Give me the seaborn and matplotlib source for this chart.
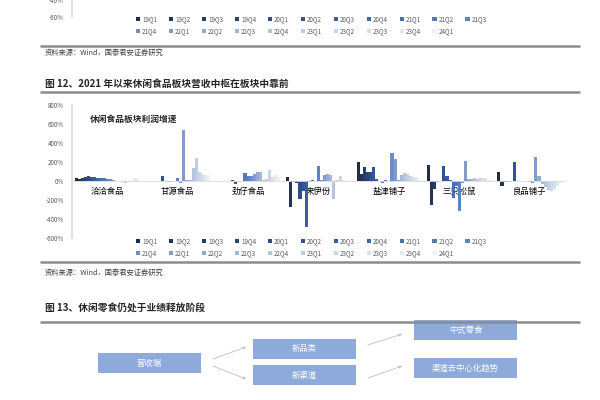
"""Report page: quarterly profit growth of snack-food companies (grouped bars)."""

import matplotlib
matplotlib.use("Agg")
import matplotlib.pyplot as plt
from matplotlib.patches import Patch, Rectangle
import numpy as np
import pandas as pd
import seaborn as sns

nan = np.nan

quarters = [
    "19Q1", "19Q2", "19Q3", "19Q4", "20Q1", "20Q2", "20Q3", "20Q4",
    "21Q1", "21Q2", "21Q3", "21Q4", "22Q1", "22Q2", "22Q3", "22Q4",
    "23Q1", "23Q2", "23Q3", "23Q4", "24Q1",
]
companies = ["洽洽食品", "甘源食品", "劲仔食品", "来伊份", "盐津铺子", "三只松鼠", "良品铺子"]

# profit growth, %
qiaqia = [30, 25, 35, 40, 50, 45, 40, 35, 30, 35, 25, 20, 10, 5, 5, -10, -20, -15, -5, 35, 15]
ganyuan = [nan, nan, nan, nan, nan, 55, -5, -10, -15, 5, 30, -20, 540, 10, 15, 140, 245, 95, 75, 65, 60]
jinzai = [nan, nan, nan, nan, nan, 10, -30, -5, 5, 85, 55, 50, 75, 90, 95, 10, 20, 115, 40, 60, 45]
laiyifen = [45, -270, -15, -20, -190, -110, -480, -10, 10, 5, 160, 10, 65, 75, 60, -190, 10, 55, 15, 5, -10]
yanjin = [200, 70, 147, 100, 95, 147, 20, 5, -20, 10, 5, 300, 230, 15, 60, 85, 75, 50, 40, 40, 10]
sanzhi = [165, -250, -85, -10, -5, 158, 55, 10, -180, -50, -315, -20, 210, 20, 25, 30, 25, 35, 30, 20, 10]
liangpin = [95, -50, -15, -10, 5, 200, 5, 5, 0, -5, -15, -20, 250, 55, -30, -60, -90, -110, -80, -50, -20]

series = [qiaqia, ganyuan, jinzai, laiyifen, yanjin, sanzhi, liangpin]

sns.set_theme(style="white")
plt.rcParams["font.family"] = ["Noto Sans CJK SC", "DejaVu Sans"]

rows = []
for name, vals in zip(companies, series):
    for q, v in zip(quarters, vals):
        rows.append({"company": name, "quarter": q, "value": v})
df = pd.DataFrame(rows).dropna()

palette = sns.blend_palette(
    ["#1f2d48", "#2f5597", "#5b82c0", "#b4c4de", "#eef1f6"], n_colors=len(quarters)
)

W, H = 600, 400
fig = plt.figure(figsize=(6, 4), dpi=100)
fig.patch.set_facecolor("white")

# page overlay in pixel coordinates
page = fig.add_axes([0, 0, 1, 1])
page.set_xlim(0, W)
page.set_ylim(H, 0)
page.axis("off")


def legend_at(y_top):
    handles = [Patch(facecolor=c, edgecolor="none") for c in palette]
    order = []
    for j in range(11):
        order.append(j)
        if j + 11 < len(quarters):
            order.append(j + 11)
    fig.legend(
        [handles[i] for i in order], [quarters[i] for i in order],
        ncol=11, loc="upper left", bbox_to_anchor=(136 / W, 1 - y_top / H),
        frameon=False, fontsize=4.5, handlelength=0.7, handleheight=0.7,
        handletextpad=0.3, columnspacing=1.85, labelspacing=0.7,
        borderpad=0, borderaxespad=0, labelcolor="#595959",
    )


# remnant of the previous chart at the top
ax0 = fig.add_axes([72 / W, 1 - 17 / H, 0.3, 37 / H])
ax0.set_ylim(-60, -16.5)
ax0.set_yticks([-60, -40])
ax0.yaxis.set_major_formatter(lambda v, p: f"{v:.0f}%")
ax0.set_xticks([])
ax0.tick_params(axis="y", labelsize=4.5, labelcolor="#595959", length=0, pad=6)
for s in ["top", "right", "bottom"]:
    ax0.spines[s].set_visible(False)
ax0.spines["left"].set_color("#d9d9d9")
ax0.set_facecolor("none")
legend_at(15)

# main chart
ax = fig.add_axes([72 / W, 1 - 238 / H, 493 / W, 133 / H])
sns.barplot(
    data=df, x="company", y="value", hue="quarter", order=companies,
    hue_order=quarters, palette=palette, width=0.92, errorbar=None,
    saturation=1, linewidth=0, legend=False, ax=ax,
)
ax.set_ylim(-600, 800)
ax.set_yticks(range(-600, 801, 200))
ax.yaxis.set_major_formatter(lambda v, p: f"{v:.0f}%")
ax.tick_params(axis="y", labelsize=4.5, labelcolor="#595959", length=0, pad=6)
ax.tick_params(axis="x", labelsize=6, labelcolor="black", length=0, pad=4)
for lbl in ax.get_xticklabels():
    lbl.set_fontweight("bold")
ax.set_xlabel("")
ax.set_ylabel("")
ax.spines[["top", "right"]].set_visible(False)
ax.spines["bottom"].set_position(("data", 0))
ax.spines["bottom"].set_color("#d9d9d9")
ax.spines["bottom"].set_linewidth(0.6)
ax.spines["left"].set_color("#d9d9d9")
ax.set_facecolor("none")
ax.text(0.037, 0.895, "休闲食品板块利润增速", transform=ax.transAxes,
        fontsize=6.3, fontweight="bold", va="center", ha="left")
legend_at(237)

# page text and rules
rule = dict(color="#8c8c8c", lw=1.8, solid_capstyle="butt")
page.plot([40, 580], [46, 46], **rule)
page.plot([40, 580], [92, 92], **rule)
page.plot([40, 580], [262, 262], **rule)
page.plot([40, 580], [322, 322], **rule)

src = "资料来源：Wind，国泰君安证券研究"
page.text(45, 53, src, fontsize=5.2, color="#404040", va="center")
page.text(45, 273, src, fontsize=5.2, color="#404040", va="center")
page.text(45, 84, "图 12、2021 年以来休闲食品板块营收中枢在板块中靠前",
          fontsize=7, fontweight="bold", va="center")
page.text(45, 308, "图 13、休闲零食仍处于业绩释放阶段",
          fontsize=7, fontweight="bold", va="center")

# flow diagram
box_w, box_h = 103, 20
boxes = [("营收端", 98, 353), ("新品类", 253, 339), ("新渠道", 253, 365),
         ("中式零食", 414, 320), ("渠道去中心化趋势", 414, 358)]
for label, bx, by in boxes:
    page.add_patch(Rectangle((bx, by), box_w, box_h, facecolor="#8eaadb",
                             edgecolor="none"))
    page.text(bx + box_w / 2, by + box_h / 2, label, color="white",
              fontsize=6, ha="center", va="center")

arrows = [((213, 359), (246, 347)), ((213, 366), (246, 379)),
          ((368, 345), (402, 334)), ((368, 378), (402, 366))]
for start, end in arrows:
    page.annotate("", xy=end, xytext=start,
                  arrowprops=dict(arrowstyle="-|>", color="#bfbfbf", lw=0.6,
                                  mutation_scale=4, shrinkA=0, shrinkB=0))

fig.savefig("out.png", dpi=100, facecolor="white")
